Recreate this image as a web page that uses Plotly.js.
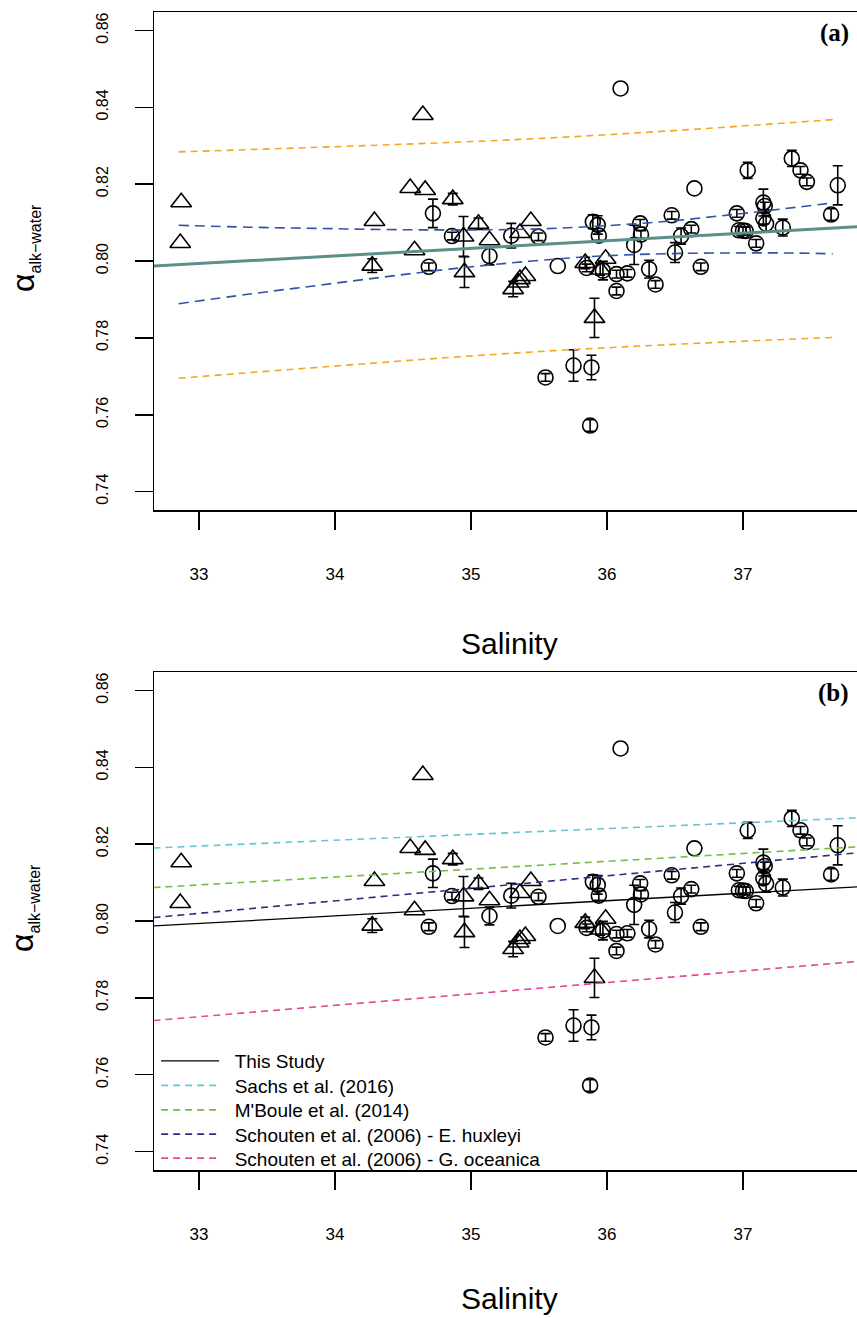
<!DOCTYPE html>
<html><head><meta charset="utf-8">
<script src="https://cdn.plot.ly/plotly-3.0.1.min.js"></script>
<style>html,body{margin:0;padding:0;overflow:hidden;background:#fff}#chart{width:875px;height:1318px}</style>
</head><body><div id="chart"></div>
<script>
// ---- measured data (salinity, alpha, error) ----
const circleSal = [34.69,34.72,34.86,35.136,35.296,35.496,35.638,35.548,35.754,35.886,35.876,35.896,35.932,35.94,35.85,35.97,36.07,36.07,36.15,36.10,36.643,36.244,36.25,36.20,36.31,36.357,36.476,36.545,36.50,36.62,36.69,37.035,36.955,36.97,37.00,37.02,37.097,37.15,37.16,37.15,37.17,37.293,37.359,37.423,37.47,37.648,37.697];
const circleAlpha = [0.7985,0.8124,0.8065,0.8013,0.8066,0.8063,0.7987,0.7697,0.7728,0.7723,0.7572,0.8102,0.8094,0.8066,0.7982,0.7975,0.7966,0.7922,0.7968,0.8449,0.8189,0.8098,0.8069,0.8042,0.7979,0.7939,0.8119,0.8065,0.8022,0.8083,0.7985,0.8236,0.8124,0.8080,0.8079,0.8078,0.8046,0.8152,0.8143,0.8111,0.8097,0.8087,0.8267,0.8236,0.8206,0.8121,0.8197];
const circleErr = [0.0010,0.0037,0.0010,0.0023,0.0032,0.0010,NaN,0.0010,0.0041,0.0032,0.0015,0.0018,0.0024,0.0012,0.0010,0.0024,0.0010,0.0010,0.0010,NaN,NaN,0.0010,0.0010,0.0051,0.0023,0.0010,0.0010,0.0021,0.0026,0.0010,0.0010,0.0021,0.0010,0.0010,0.0010,0.0010,0.0010,0.0035,0.0010,0.0015,0.0022,0.0022,0.0021,0.0010,0.0010,0.0015,0.0051];

const triSal = [32.869,32.862,34.29,34.274,34.585,34.553,34.663,34.646,34.866,34.945,34.952,35.055,35.136,35.44,35.36,35.908,35.84,35.95,35.99,35.31,35.36,35.40,35.35];
const triAlpha = [0.8153,0.8047,0.8104,0.7988,0.8028,0.8190,0.8185,0.8380,0.8161,0.8064,0.7971,0.8097,0.8054,0.8104,0.8073,0.7852,0.7995,0.7978,0.8006,0.7927,0.7953,0.7961,0.7944];
const triErr = [NaN,NaN,NaN,0.0018,NaN,NaN,NaN,NaN,0.0015,0.0052,0.0040,0.0015,NaN,NaN,NaN,0.0051,0.0015,0.0015,NaN,0.0020,NaN,NaN,NaN];

// ---- panel (a) regression, confidence and prediction bands ----
const fitSal = [32.665, 37.89];
const fitAlpha = [0.7987, 0.8090];
const ciSal = [32.85,33.37,33.86,34.35,34.84,35.45,35.95,36.43,36.90,37.30,37.66];
const ciUpper = [0.8093,0.8088,0.8085,0.8082,0.8081,0.8083,0.8091,0.8103,0.8120,0.8136,0.8151];
const ciLower = [0.7889,0.7914,0.7936,0.7958,0.7979,0.8000,0.8013,0.8019,0.8021,0.8021,0.8019];
const piSal = [32.85,35.21,36.43,37.66];
const piUpper = [0.8284,0.8314,0.8338,0.8368];
const piLower = [0.7695,0.7758,0.7782,0.7801];

// ---- panel (b) calibration lines ----
const calSal = [32.665, 37.89];
const sachs = [0.8190, 0.8269];
const mboule = [0.8087, 0.8194];
const schoutenEh = [0.8009, 0.8179];
const schoutenGo = [0.7741, 0.7896];
const legendNames = ['This Study','Sachs et al. (2016)',"M'Boule et al. (2014)",'Schouten et al. (2006) - E. huxleyi','Schouten et al. (2006) - G. oceanica'];

const yTicks = [0.74,0.76,0.78,0.80,0.82,0.84,0.86];
const xTicks = [33,34,35,36,37];

const FONT = 'Liberation Sans, Arial, Helvetica, sans-serif';
const traces = [];
function points(xa, ya) {
  traces.push({x: circleSal, y: circleAlpha, xaxis: xa, yaxis: ya, type: 'scatter', mode: 'markers', showlegend: false,
    marker: {symbol: 'circle-open', size: 15, color: '#000', line: {width: 1.6, color: '#000'}},
    error_y: {type: 'data', array: circleErr, visible: true, color: '#000', thickness: 1.6, width: 5}});
  traces.push({x: triSal, y: triAlpha, xaxis: xa, yaxis: ya, type: 'scatter', mode: 'markers', showlegend: false,
    marker: {symbol: 'triangle-up-open', size: 18, color: '#000', line: {width: 1.6, color: '#000'}},
    error_y: {type: 'data', array: triErr, visible: true, color: '#000', thickness: 1.6, width: 5}});
}
points('x', 'y');
function line(xs, ys, xa, ya, color, width, dash, name, leg) {
  const t = {x: xs, y: ys, xaxis: xa, yaxis: ya, type: 'scatter', mode: 'lines', name: name || '',
    showlegend: !!leg, line: {color: color, width: width, dash: dash, shape: 'spline'}};
  if (leg) t.legend = leg;
  traces.push(t);
}
line(piSal, piUpper, 'x', 'y', '#f5a623', 1.6, '7px,5px');
line(piSal, piLower, 'x', 'y', '#f5a623', 1.6, '7px,5px');
line(ciSal, ciUpper, 'x', 'y', '#3452a6', 1.6, '10px,6px');
line(ciSal, ciLower, 'x', 'y', '#3452a6', 1.6, '10px,6px');
line(fitSal, fitAlpha, 'x', 'y', '#5b8f89', 3, 'solid');

points('x2', 'y2');
const NB = '\u00a0\u00a0';
line(fitSal, fitAlpha, 'x2', 'y2', '#000', 1.3, 'solid', NB + legendNames[0], 'legend');
line(calSal, sachs, 'x2', 'y2', '#62c8d8', 1.6, '7px,5px', NB + legendNames[1], 'legend2');
line(calSal, mboule, 'x2', 'y2', '#72bf44', 1.6, '7px,5px', NB + legendNames[2], 'legend3');
line(calSal, schoutenEh, 'x2', 'y2', '#2b2f84', 1.6, '7px,5px', NB + legendNames[3], 'legend4');
line(calSal, schoutenGo, 'x2', 'y2', '#e8489b', 1.6, '7px,5px', NB + legendNames[4], 'legend5');

function xax(anchor) {
  return {anchor: anchor, range: [32.669, 37.89], tickvals: xTicks, ticktext: xTicks.map(String),
    ticks: 'outside', ticklen: 18, tickwidth: 1.5, tickcolor: '#000', ticklabelstandoff: 30,
    showline: true, linewidth: 1.5, linecolor: '#000', mirror: true, showgrid: false, zeroline: false,
    tickfont: {family: FONT, size: 17, color: '#000'}};
}
function yax(anchor, dom) {
  return {anchor: anchor, domain: dom, range: [0.7352, 0.8648], tickvals: yTicks, ticktext: yTicks.map(v => v.toFixed(2)),
    tickangle: -90, ticks: 'outside', ticklen: 18, tickwidth: 1.5, tickcolor: '#000', ticklabelstandoff: 20,
    showline: true, linewidth: 1.5, linecolor: '#000', mirror: true, showgrid: false, zeroline: false,
    tickfont: {family: FONT, size: 16, color: '#000'}};
}
function leg(yc) {
  return {x: 0.003, y: (1170 - yc) / 1158, xanchor: 'left', yanchor: 'middle', font: {family: FONT, size: 19, color: '#000'},
    bgcolor: 'rgba(0,0,0,0)', borderwidth: 0, itemwidth: 58};
}
const yTitle = 'α<sub><span style="font-size:16px">alk−water</span></sub>';
const layout = {
  width: 875, height: 1318, margin: {l: 154, r: 11, t: 12, b: 148},
  paper_bgcolor: '#fff', plot_bgcolor: '#fff',
  xaxis: xax('y'), yaxis: yax('x', [0.5699, 1]),
  xaxis2: xax('y2'), yaxis2: yax('x2', [0, 0.43005]),
  showlegend: true,
  legend: leg(1061), legend2: leg(1085.5), legend3: leg(1110), legend4: leg(1134.3), legend5: leg(1158.3),
  annotations: [
    {text: '<b>(a)</b>', xref: 'paper', yref: 'paper', x: 0.982, y: 0.9819, xanchor: 'right', yanchor: 'middle', showarrow: false,
      font: {family: 'Liberation Serif, Times New Roman, serif', size: 25, color: '#000'}},
    {text: '<b>(b)</b>', xref: 'paper', yref: 'paper', x: 0.982, y: 0.4122, xanchor: 'right', yanchor: 'middle', showarrow: false,
      font: {family: 'Liberation Serif, Times New Roman, serif', size: 25, color: '#000'}},
    {text: 'Salinity', xref: 'paper', yref: 'paper', x: 0.5, y: (1170 - 643) / 1158, xanchor: 'center', yanchor: 'middle', showarrow: false,
      font: {family: FONT, size: 30, color: '#000'}},
    {text: 'Salinity', xref: 'paper', yref: 'paper', x: 0.5, y: (1170 - 1298) / 1158, xanchor: 'center', yanchor: 'middle', showarrow: false,
      borderpad: 0, font: {family: FONT, size: 30, color: '#000'}},
    {text: yTitle, xref: 'paper', yref: 'paper', x: (24 - 154) / 710, y: (1170 - 248) / 1158, xanchor: 'center', yanchor: 'middle', textangle: -90, showarrow: false,
      borderpad: 0, font: {family: FONT, size: 32, color: '#000'}},
    {text: yTitle, xref: 'paper', yref: 'paper', x: (24 - 154) / 710, y: (1170 - 908) / 1158, xanchor: 'center', yanchor: 'middle', textangle: -90, showarrow: false,
      borderpad: 0, font: {family: FONT, size: 32, color: '#000'}}
  ]
};
Plotly.newPlot('chart', traces, layout, {staticPlot: true});
</script></body></html>
